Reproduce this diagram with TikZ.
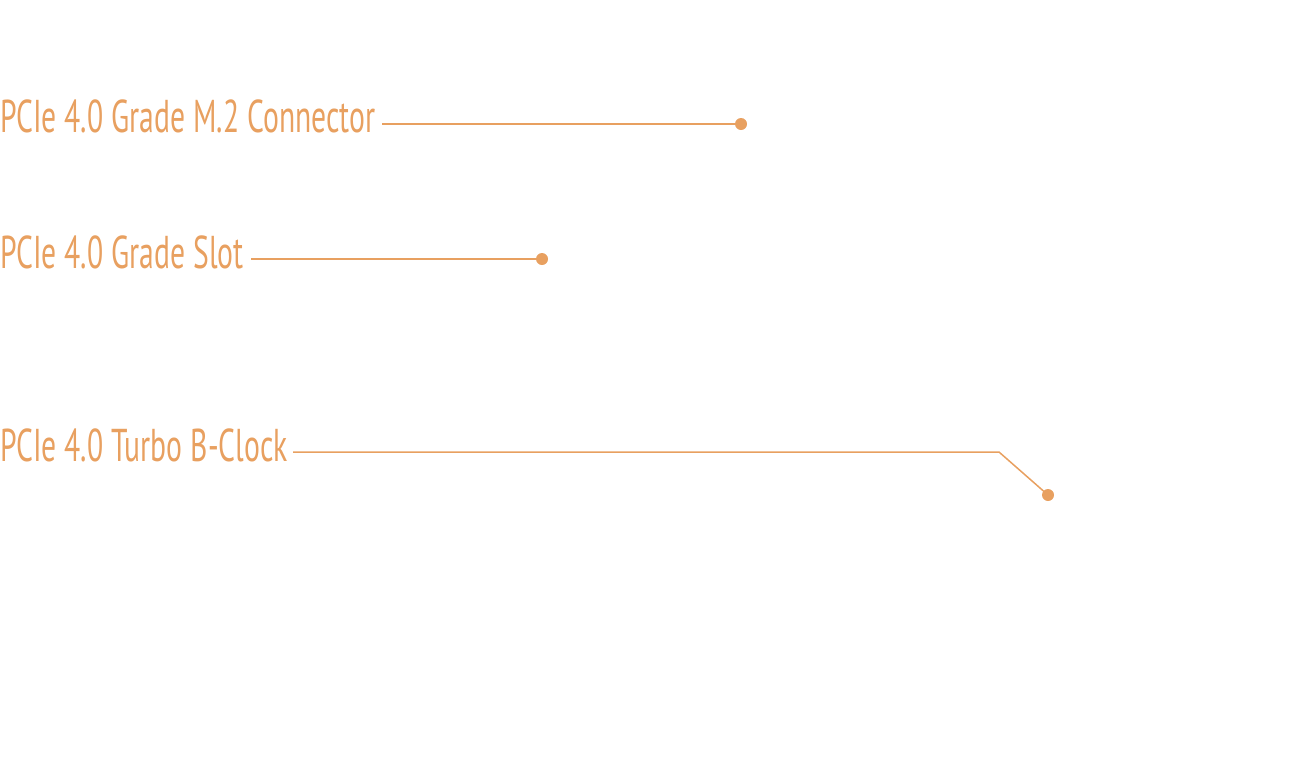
\documentclass[tikz,border=0pt]{standalone}
\usepackage{fontspec}
\setmainfont[FakeStretch=0.645]{PT Sans}
\definecolor{accent}{HTML}{E8A060}
\begin{document}
\begin{tikzpicture}[x=1pt,y=-1pt,
  lbl/.style={anchor=base west,inner sep=0pt,text=accent,font=\fontsize{46}{50}\selectfont},
  leader/.style={draw=accent,line width=1.5pt},
  dotc/.style={circle,fill=accent,inner sep=0pt,minimum size=12pt}]
\useasboundingbox (0,0) rectangle (1300,764);
\node[lbl] (t1) at (0,132) {PCIe 4.0 Grade M.2 Connector};
\node[lbl] (t2) at (0,268) {PCIe 4.0 Grade Slot};
\node[lbl] (t3) at (0,461) {PCIe 4.0 Turbo B-Clock};
\node[dotc] (d1) at (741,124) {};
\node[dotc] (d2) at (542,259) {};
\node[dotc] (d3) at (1048,495) {};
\coordinate (s1) at (382,124);
\coordinate (s2) at (251,259);
\coordinate (s3) at (293,452);
\coordinate (k3) at (999,452);
\draw[leader] (s1) -- (d1.center);
\draw[leader] (s2) -- (d2.center);
\draw[leader] (s3) -- (k3) -- (d3.center);
\end{tikzpicture}
\end{document}
